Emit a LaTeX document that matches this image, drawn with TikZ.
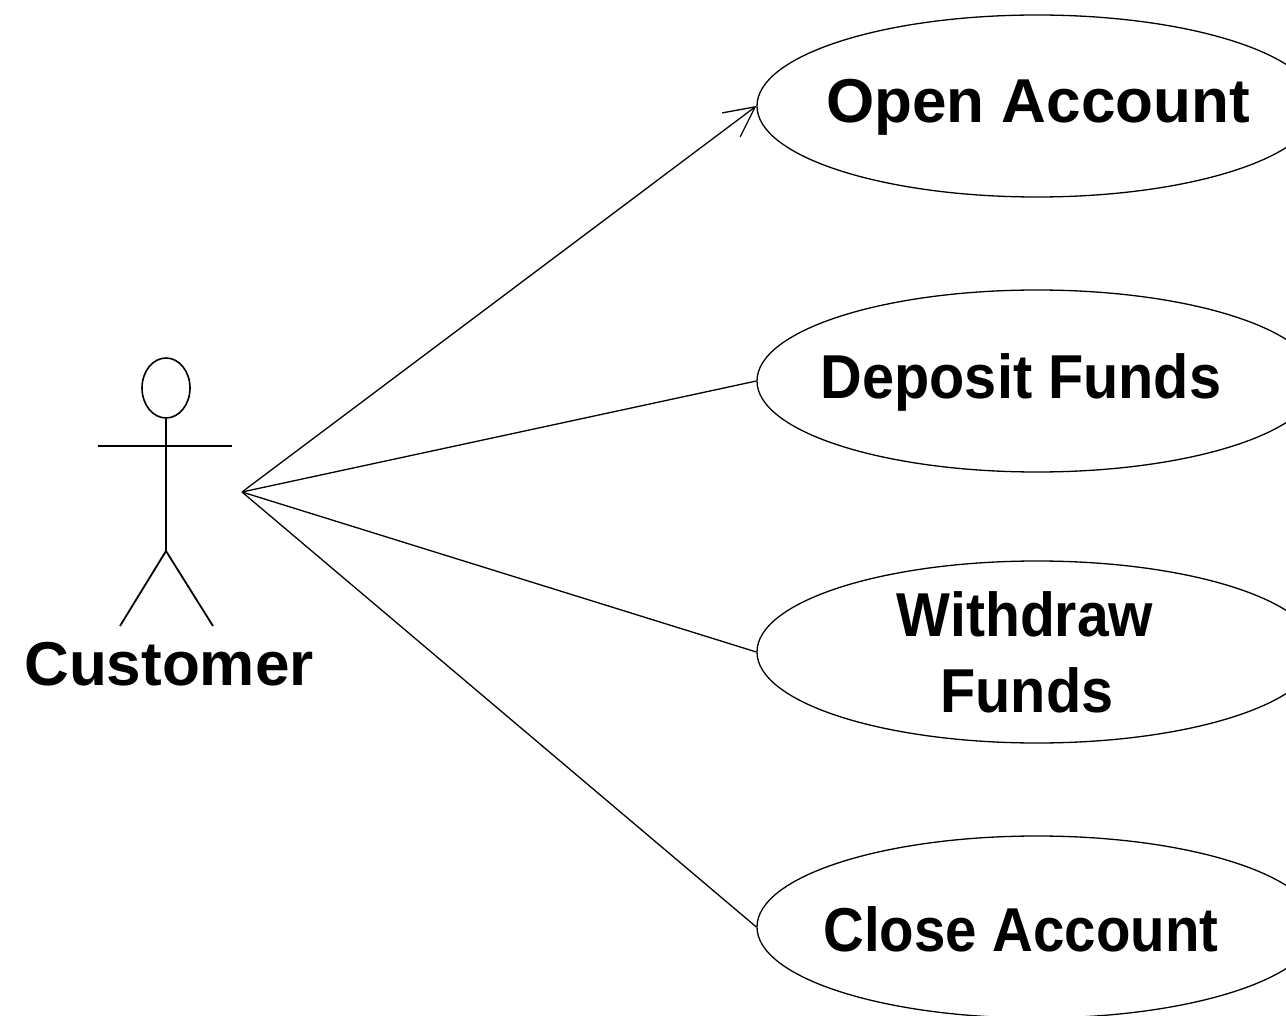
\documentclass[tikz,border=0pt]{standalone}
\usepackage{fontspec}
\setmainfont{Liberation Sans}
\usetikzlibrary{arrows.meta,shapes.geometric}
\begin{document}
\begin{tikzpicture}[x=1pt,y=-1pt,
  usecase/.style={draw,ellipse,line width=1.3pt,minimum width=560pt,minimum height=182pt,inner sep=0pt},
  uclabel/.style={font=\fontsize{62}{76}\selectfont\bfseries,align=center,inner sep=0pt},
  actorline/.style={line width=1.8pt},
  assoc/.style={line width=1.3pt}]
\useasboundingbox (0,0) rectangle (1286,1016);
\clip (0,0) rectangle (1286,1016);
% actor
\node[draw,ellipse,line width=1.6pt,minimum width=48pt,minimum height=60pt,inner sep=0pt] (head) at (166,388) {};
\coordinate (hip) at (166,551);
\coordinate (larm) at (98,446);
\coordinate (rarm) at (232,446);
\coordinate (lfoot) at (120,626);
\coordinate (rfoot) at (213,626);
\draw[actorline] (head.south) -- (hip);
\draw[actorline] (larm) -- (rarm);
\draw[actorline] (lfoot) -- (hip) -- (rfoot);
\node[uclabel] (customer) at (169,664) {Customer};
\coordinate (actor) at (242,492);
% use cases
\node[usecase] (open) at (1037,106) {};
\node[usecase] (deposit) at (1037,381) {};
\node[usecase] (withdraw) at (1037,652) {};
\node[usecase] (close) at (1037,927) {};
\node[uclabel] (openlbl) at (1038,107) {Open Account};
\node[uclabel] (depositlbl) at (1021,382) {\scalebox{0.93}[1]{Deposit Funds}};
\node[uclabel] (withdrawlbl) at (1025,614) {\scalebox{0.92}[1]{Withdraw}};
\node[uclabel] (fundslbl) at (1027,690) {\scalebox{0.93}[1]{Funds}};
\node[uclabel] (closelbl) at (1021,929) {\scalebox{0.91}[1]{Close Account}};
% associations
\draw[assoc,-{Straight Barb[length=30pt,width=30pt,line width=1.3pt]}] (actor) -- (open.west);
\draw[assoc] (actor) -- (deposit.west);
\draw[assoc] (actor) -- (withdraw.west);
\draw[assoc] (actor) -- (close.west);
\end{tikzpicture}
\end{document}
